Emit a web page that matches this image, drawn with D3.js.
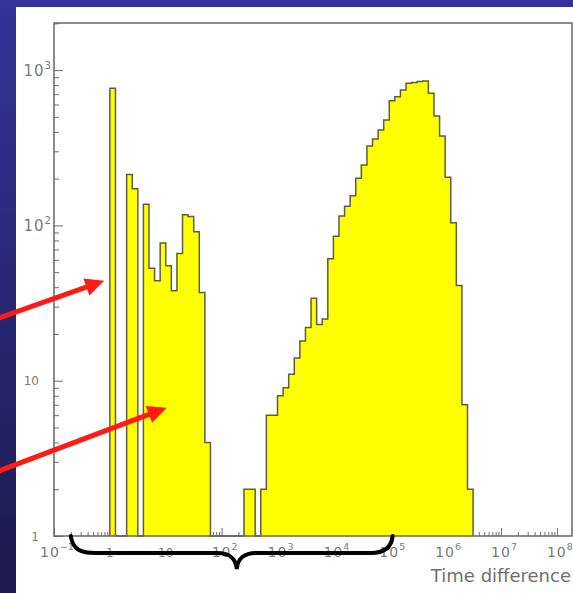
<!DOCTYPE html>
<html>
<head>
<meta charset="utf-8">
<script src="https://cdn.jsdelivr.net/npm/d3@7"></script>
<style>
  html, body { margin: 0; padding: 0; background: #ffffff; }
  svg { display: block; }
  text { font-family: "DejaVu Sans", "Liberation Sans", sans-serif; }
</style>
</head>
<body>
<svg id="chart" width="573" height="593"></svg>
<script>
// Histogram of log10(time difference): lower edges of the filled bins (each bin is 0.1 decade wide)
const binLowEdge = [0.0, 0.3, 0.4, 0.6, 0.7, 0.8, 0.9, 1.0, 1.1, 1.2, 1.3, 1.4, 1.5, 1.6, 1.7,
                    2.4, 2.5, 2.7, 2.8, 2.9, 3.0, 3.1, 3.2, 3.3, 3.4, 3.5, 3.6, 3.7, 3.8, 3.9,
                    4.0, 4.1, 4.2, 4.3, 4.4, 4.5, 4.6, 4.7, 4.8, 4.9, 5.0, 5.1, 5.2, 5.3, 5.4,
                    5.5, 5.6, 5.7, 5.8, 5.9, 6.0, 6.1, 6.2, 6.3, 6.4];
// Entries per bin
const binCounts = [764, 213, 172, 137, 53, 44, 77, 55, 38, 66, 117, 114, 91, 37, 4,
                   2, 2, 2, 6, 6, 8, 9, 11, 14, 18, 22, 34, 23, 25, 61,
                   85, 115, 133, 155, 201, 245, 325, 360, 411, 477, 635, 674, 745, 822, 832,
                   845, 850, 709, 507, 377, 204, 104, 41, 7, 2];
const binWidth = 0.1;

// Axis ticks (powers of ten) and title
const xTickExponents = [-1, 0, 1, 2, 3, 4, 5, 6, 7, 8];
const yTickExponents = [0, 1, 2, 3];
const xTitle = "Time difference";

const W = 573, H = 593;
const frame = { left: 54, top: 23, right: 572, bottom: 536 };

const svg = d3.select("#chart");

// Slide background: dark blue gradient with a white panel
const defs = svg.append("defs");
const grad = defs.append("linearGradient").attr("id", "bg").attr("x1", 0).attr("y1", 0).attr("x2", 0).attr("y2", 1);
grad.append("stop").attr("offset", "0%").attr("stop-color", "#34349a");
grad.append("stop").attr("offset", "100%").attr("stop-color", "#1b1b4e");
svg.append("rect").attr("width", W).attr("height", H).attr("fill", "url(#bg)");
svg.append("rect").attr("x", 16).attr("y", 7).attr("width", W - 16).attr("height", H - 7).attr("fill", "#ffffff");

// Scales
const x = d3.scaleLog().domain([0.1, Math.pow(10, 8.27)]).range([frame.left, frame.right]);
const y = d3.scaleLog().domain([1, 2010]).range([frame.bottom, frame.top]);

const axisColor = "#707070";
const labelColor = "#7a7a7a";

// Minor/major tick values
const xMajor = xTickExponents.map(e => Math.pow(10, e));
const xMinor = [];
xTickExponents.forEach(e => { for (let m = 2; m <= 9; m++) { const v = m * Math.pow(10, e); if (v < x.domain()[1]) xMinor.push(v); } });
const yMajor = yTickExponents.map(e => Math.pow(10, e));
const yMinor = [];
yTickExponents.forEach(e => { for (let m = 2; m <= 9; m++) { const v = m * Math.pow(10, e); if (v < y.domain()[1]) yMinor.push(v); } });

function styleTicks(g) {
  g.select(".domain").remove();
  g.selectAll("line").attr("stroke", axisColor).attr("stroke-width", 1);
  g.selectAll("text").remove();
}

// Ticks point into the frame
svg.append("g").attr("transform", `translate(0,${frame.bottom})`)
  .call(d3.axisBottom(x).tickValues(xMajor).tickSize(-8).tickFormat(""))
  .call(styleTicks);
svg.append("g").attr("transform", `translate(0,${frame.bottom})`)
  .call(d3.axisBottom(x).tickValues(xMinor).tickSize(-4).tickFormat(""))
  .call(styleTicks);
svg.append("g").attr("transform", `translate(${frame.left},0)`)
  .call(d3.axisLeft(y).tickValues(yMajor).tickSize(-9).tickFormat(""))
  .call(styleTicks);
svg.append("g").attr("transform", `translate(${frame.left},0)`)
  .call(d3.axisLeft(y).tickValues(yMinor).tickSize(-5).tickFormat(""))
  .call(styleTicks);

// Histogram as a contiguous step series, empty bins drawn at the baseline
const countByIndex = new Map(binLowEdge.map((e, i) => [Math.round(e / binWidth), binCounts[i]]));
const firstIdx = d3.min(binLowEdge, e => Math.round(e / binWidth));
const lastIdx = d3.max(binLowEdge, e => Math.round(e / binWidth));
const steps = [{ edge: firstIdx * binWidth, n: 0 }];
for (let i = firstIdx; i <= lastIdx; i++) steps.push({ edge: i * binWidth, n: countByIndex.get(i) || 0 });
steps.push({ edge: (lastIdx + 1) * binWidth, n: 0 });

const px = d => x(Math.pow(10, d.edge));
const py = d => y(Math.max(1, d.n));

svg.append("path")
  .datum(steps)
  .attr("d", d3.area().x(px).y0(y(1)).y1(py).curve(d3.curveStepAfter))
  .attr("fill", "#ffff00");
svg.append("path")
  .datum(steps)
  .attr("d", d3.line().x(px).y(py).curve(d3.curveStepAfter))
  .attr("fill", "none")
  .attr("stroke", "#5e5e3c")
  .attr("stroke-width", 1.5);

// Frame
svg.append("rect")
  .attr("x", frame.left).attr("y", frame.top)
  .attr("width", frame.right - frame.left).attr("height", frame.bottom - frame.top)
  .attr("fill", "none").attr("stroke", "#666666").attr("stroke-width", 1.5);

// Tick labels
function powerLabel(sel, e, big, small) {
  if (e === 0) { sel.append("tspan").attr("font-size", small).text("1"); return; }
  if (e === 1) { sel.append("tspan").attr("font-size", small).text("10"); return; }
  sel.append("tspan").attr("font-size", big).attr("letter-spacing", 1).text("10");
  sel.append("tspan").attr("font-size", big * 0.68).attr("dy", -big * 0.5).text(e < 0 ? "\u2212" + Math.abs(e) : String(e));
}

xTickExponents.forEach(e => {
  const t = svg.append("text")
    .attr("x", x(Math.pow(10, e)) + (e > 1 || e < 0 ? 3 : 0))
    .attr("y", 557)
    .attr("text-anchor", "middle")
    .attr("fill", labelColor);
  powerLabel(t, e, 14, 12);
});

yTickExponents.forEach(e => {
  const t = svg.append("text")
    .attr("x", e > 1 ? 51 : 39)
    .attr("y", y(Math.pow(10, e)) + (e > 1 ? 6 : 4.5))
    .attr("text-anchor", "end")
    .attr("fill", labelColor);
  powerLabel(t, e, 15, 12);
});

// Axis title
svg.append("text")
  .attr("x", 571).attr("y", 582)
  .attr("text-anchor", "end")
  .attr("font-size", 18)
  .attr("fill", "#707070")
  .text(xTitle);

// Annotations: red arrows pointing at the short-time peaks
const red = "#ff1a14";
function arrow(tailX, tailY, tipX, tipY) {
  const dx = tipX - tailX, dy = tipY - tailY, len = Math.hypot(dx, dy);
  const ux = dx / len, uy = dy / len;
  const headLen = 19, headHalf = 9;
  const bx = tipX - ux * headLen, by = tipY - uy * headLen;
  svg.append("line")
    .attr("x1", tailX).attr("y1", tailY).attr("x2", bx + ux * 2).attr("y2", by + uy * 2)
    .attr("stroke", red).attr("stroke-width", 5);
  svg.append("polygon")
    .attr("points", [[tipX, tipY], [bx - uy * headHalf, by + ux * headHalf], [bx + uy * headHalf, by - ux * headHalf]].map(p => p.join(",")).join(" "))
    .attr("fill", red);
}
arrow(-4, 319, x(Math.pow(10, -0.1)), y(44));
arrow(-4, 472, x(10.4), y(6.7));

// Brace under the range of the two short-time clusters
const bx0 = x(0.2), bx1 = x(1.15e5), bMid = (bx0 + bx1) / 2 + 5;
const base = frame.bottom, line = base + 17, tip = base + 33;
svg.append("path")
  .attr("d", `M${bx0},${base} C${bx0 + 2},${line - 3} ${bx0 + 10},${line} ${bx0 + 25},${line}
              L${bMid - 20},${line} C${bMid - 6},${line} ${bMid - 1},${line + 6} ${bMid},${tip}
              C${bMid + 1},${line + 6} ${bMid + 6},${line} ${bMid + 20},${line}
              L${bx1 - 22},${line} C${bx1 - 8},${line} ${bx1 - 1},${line - 6} ${bx1},${base}`)
  .attr("fill", "none")
  .attr("stroke", "#000000")
  .attr("stroke-width", 4)
  .attr("stroke-linecap", "round");
</script>
</body>
</html>
